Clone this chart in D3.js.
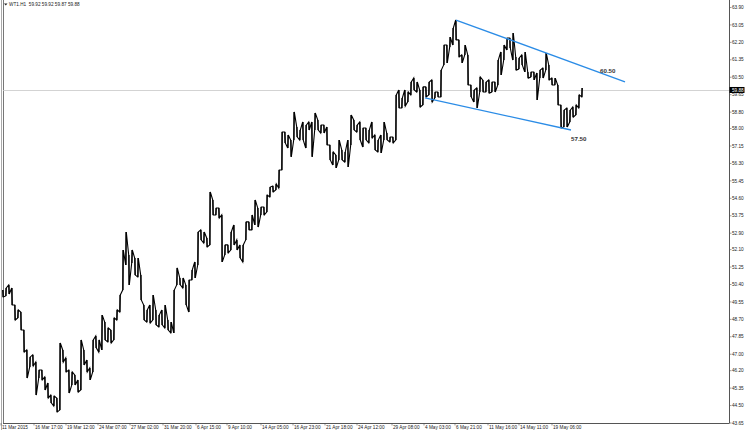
<!DOCTYPE html>
<html>
<head>
<meta charset="utf-8">
<style>
body, html {
  margin: 0;
  padding: 0;
  background: #fff;
}
svg text {
  font-family: "Liberation Sans", Arial, sans-serif;
}
.axis-label {
  font-size: 4.7px;
  fill: #222;
}
.trend {
  fill: none;
  stroke: #2b8ce6;
  stroke-width: 1.3px;
}
.note {
  font-size: 6.2px;
  font-weight: bold;
  fill: #333;
}
</style>
<script src="https://d3js.org/d3.v7.min.js"></script>
</head>
<body>
<div id="chart"></div>
<script>

//--------------------------------------
// data: WTI hourly chart, each point covers 6 H1 bars
var title = "WT1.H1  59.92 59.92 59.87 59.88";
var lastPrice = 59.88;
var barsPerPoint = 6;

var highs = [
  50.13, 50.23, 50.38, 50.23, 49.40, 49.16, 49.06, 48.18, 47.21, 46.87,
  46.97, 46.62, 46.23, 46.23, 45.89, 45.60, 45.01, 44.96, 44.87, 47.55,
  47.21, 46.82, 46.23, 46.14, 45.99, 45.75, 47.70, 47.21, 46.72, 46.33,
  47.70, 47.89, 47.70, 48.91, 48.57, 48.28, 48.18, 48.77, 49.16, 49.89,
  52.08, 52.96, 51.84, 52.08, 51.69, 51.69, 50.86, 49.40, 49.16, 49.40,
  49.89, 49.16, 48.91, 49.16, 49.40, 48.67, 48.57, 50.13, 51.21, 50.72,
  50.72, 50.38, 50.62, 51.11, 51.50, 52.96, 53.06, 52.96, 52.67, 54.91,
  54.52, 54.13, 54.13, 53.79, 52.33, 52.33, 52.96, 53.30, 52.57, 52.33,
  52.33, 53.45, 53.45, 53.79, 54.52, 54.13, 54.18, 54.18, 54.76, 55.15,
  55.20, 55.30, 55.98, 57.83, 57.83, 57.69, 57.44, 58.81, 58.08, 57.93,
  58.32, 58.17, 58.32, 58.32, 58.76, 58.42, 58.17, 58.17, 58.08, 57.20,
  56.86, 56.71, 57.44, 56.96, 56.86, 57.44, 58.66, 58.42, 58.17, 58.32,
  58.03, 58.03, 57.93, 58.32, 57.69, 57.44, 57.69, 58.32, 57.78, 57.59,
  57.59, 59.64, 59.88, 59.49, 59.88, 59.78, 60.27, 60.46, 60.27, 59.88,
  60.03, 60.03, 60.27, 60.37, 59.78, 59.78, 60.85, 62.07, 62.07, 62.46,
  62.90, 63.29, 62.32, 61.59, 62.07, 61.59, 60.12, 59.88, 59.98, 60.51,
  60.37, 60.27, 60.37, 60.27, 60.27, 61.34, 61.73, 62.07, 62.41, 62.41,
  62.66, 61.49, 61.44, 61.59, 61.73, 60.76, 60.76, 60.76, 60.71, 60.85,
  60.95, 61.68, 61.10, 60.46, 60.46, 60.12, 59.15, 58.90, 59.00, 58.90,
  59.05, 59.15, 59.64, 59.98
];

var lows = [
  49.79, 49.84, 49.94, 49.40, 48.67, 48.77, 48.18, 47.11, 45.84, 46.38,
  46.43, 45.01, 45.84, 45.75, 45.26, 44.87, 44.63, 44.48, 44.19, 44.28,
  46.62, 46.14, 45.11, 45.50, 45.50, 45.16, 45.26, 46.48, 46.14, 45.75,
  46.14, 47.31, 47.11, 47.21, 47.70, 47.60, 47.55, 47.70, 48.67, 49.06,
  50.13, 51.35, 50.38, 51.45, 50.86, 50.77, 49.65, 48.67, 48.57, 48.52,
  48.67, 48.43, 48.33, 48.43, 48.28, 48.18, 48.04, 48.04, 50.38, 50.38,
  50.23, 49.40, 49.06, 50.62, 50.72, 51.35, 52.57, 52.42, 52.23, 52.33,
  53.79, 53.79, 53.64, 51.50, 51.84, 51.94, 52.08, 52.33, 52.08, 51.69,
  51.50, 52.57, 53.06, 53.06, 53.30, 53.20, 53.79, 53.79, 53.93, 54.67,
  54.91, 55.01, 55.10, 55.98, 57.30, 57.05, 56.62, 57.44, 57.59, 57.44,
  57.44, 57.05, 57.93, 56.62, 57.93, 57.93, 57.78, 57.78, 57.20, 56.47,
  56.22, 56.08, 56.47, 56.47, 56.37, 56.13, 57.20, 57.93, 57.83, 57.44,
  57.10, 57.44, 57.30, 57.54, 56.96, 56.86, 56.81, 57.44, 57.44, 57.35,
  57.30, 57.44, 59.00, 59.00, 59.10, 59.30, 59.64, 59.88, 59.78, 59.05,
  59.15, 59.54, 59.64, 59.30, 59.49, 59.54, 59.54, 61.10, 61.20, 61.98,
  62.07, 62.32, 61.49, 61.20, 61.59, 60.12, 59.54, 59.30, 59.00, 59.78,
  59.78, 59.78, 59.73, 59.78, 59.78, 60.12, 60.61, 61.34, 61.83, 61.93,
  61.34, 60.85, 60.90, 61.10, 60.76, 60.46, 60.51, 60.37, 59.39, 60.46,
  60.46, 60.85, 60.37, 60.12, 60.12, 59.15, 58.03, 58.08, 58.08, 58.32,
  58.56, 58.66, 59.00, 59.54
];

var priceTicks = [
  63.90, 63.05, 62.20, 61.35, 60.50, 59.65, 58.80, 58.00, 57.15, 56.30,
  55.45, 54.60, 53.75, 52.90, 52.10, 51.25, 50.40, 49.55, 48.70, 47.85,
  47.00, 46.20, 45.35, 44.50, 43.65
];

var timeLabels = [
  "11 Mar 2015", "16 Mar 17:00", "19 Mar 12:00", "24 Mar 07:00", "27 Mar 02:00",
  "31 Mar 20:00", "6 Apr 15:00", "9 Apr 10:00", "14 Apr 05:00", "16 Apr 23:00",
  "21 Apr 18:00", "24 Apr 12:00", "29 Apr 08:00", "4 May 03:00", "6 May 21:00",
  "11 May 16:00", "14 May 11:00", "19 May 06:00"
];
// bar index (H1) of each time label
var timeBars = [
  -4, 62, 126, 190, 254, 320, 386, 448, 516, 580,
  644, 708, 778, 842, 904, 970, 1032, 1098
];

// hand drawn channel: [bar, price]
var trendUpper = [[906, 63.29], [1244, 60.28]];
var trendLower = [[844, 59.49], [1136, 57.93]];
var noteTexts = ["60.50", "57.50"];
var noteBars = [1194, 1136];
var notePrices = [60.81, 57.49];

//==========================================
var width = 750,
    height = 430,
    plot = {left: 3, right: 729, top: 0, bottom: 423};

var x = d3.scaleLinear()
    .domain([0, 1452])
    .range([plot.left, plot.right]);

var y = d3.scaleLinear()
    .domain([43.65, 63.90])
    .range([plot.bottom, 7.5]);

var svg = d3.select('#chart').append('svg')
    .attr('width', width)
    .attr('height', height);

var points = highs.map(function(h, i) {
  return {bar: i * barsPerPoint, hi: h, lo: lows[i]};
});

// frame
svg.append('line')
    .attr('x1', 1.5).attr('x2', 1.5).attr('y1', 0).attr('y2', height)
    .attr('stroke', '#aaa').attr('stroke-width', 1);
svg.append('line')
    .attr('x1', 3.5).attr('x2', 3.5).attr('y1', 0).attr('y2', plot.bottom)
    .attr('stroke', '#777').attr('stroke-width', 1);

// last price line
svg.append('line')
    .attr('x1', plot.left).attr('x2', plot.right)
    .attr('y1', Math.round(y(lastPrice)) + 0.5)
    .attr('y2', Math.round(y(lastPrice)) + 0.5)
    .attr('stroke', '#c8c8c8').attr('stroke-width', 0.8);

// price trace: walk each column's range, entering at the end nearest the
// previous exit
var trace = [];
var last = null;
points.forEach(function(d) {
  var first = d.hi, second = d.lo;
  if (last !== null && Math.abs(d.lo - last) < Math.abs(d.hi - last)) {
    first = d.lo; second = d.hi;
  }
  trace.push([d.bar - 0.6, first]);
  trace.push([d.bar + 0.6, second]);
  last = second;
});

var traceLine = d3.line()
    .x(function(d) { return x(d[0]); })
    .y(function(d) { return y(d[1]); });

svg.append('path')
    .datum(trace)
    .attr('d', traceLine)
    .attr('fill', 'none')
    .attr('stroke', '#000')
    .attr('stroke-width', 1.1)
    .attr('stroke-linejoin', 'miter');

svg.selectAll('line.bar')
    .data(points)
  .enter().append('line')
    .attr('class', 'bar')
    .attr('x1', function(d) { return x(d.bar); })
    .attr('x2', function(d) { return x(d.bar); })
    .attr('y1', function(d) { return y(d.hi); })
    .attr('y2', function(d) { return y(d.lo); })
    .attr('stroke', '#000')
    .attr('stroke-width', 1.2);

// channel lines
var trendLine = d3.line()
    .x(function(d) { return x(d[0]); })
    .y(function(d) { return y(d[1]); });

[trendUpper, trendLower].forEach(function(t) {
  svg.append('path')
      .datum(t)
      .attr('class', 'trend')
      .attr('d', trendLine);
});

noteTexts.forEach(function(t, i) {
  svg.append('text')
      .attr('class', 'note')
      .attr('x', x(noteBars[i]))
      .attr('y', y(notePrices[i]))
      .attr('dy', '0.35em')
      .text(t);
});

// price axis
svg.append('line')
    .attr('x1', plot.right + 0.5).attr('x2', plot.right + 0.5)
    .attr('y1', 0).attr('y2', plot.bottom)
    .attr('stroke', '#555').attr('stroke-width', 1);

var yAxis = svg.append('g');
priceTicks.forEach(function(v) {
  yAxis.append('line')
      .attr('x1', plot.right).attr('x2', plot.right + 2.5)
      .attr('y1', y(v)).attr('y2', y(v))
      .attr('stroke', '#555').attr('stroke-width', 0.6);
  yAxis.append('text')
      .attr('class', 'axis-label')
      .attr('x', plot.right + 3)
      .attr('y', y(v))
      .attr('dy', '0.35em')
      .text(v.toFixed(2));
});

svg.append('rect')
    .attr('x', plot.right + 0.5)
    .attr('y', y(lastPrice) - 3)
    .attr('width', 15)
    .attr('height', 6)
    .attr('fill', '#000');
svg.append('text')
    .attr('class', 'axis-label')
    .attr('x', plot.right + 3)
    .attr('y', y(lastPrice))
    .attr('dy', '0.35em')
    .style('fill', '#fff')
    .text(lastPrice.toFixed(2));

// time axis
svg.append('line')
    .attr('x1', plot.left).attr('x2', plot.right + 0.5)
    .attr('y1', plot.bottom + 0.5).attr('y2', plot.bottom + 0.5)
    .attr('stroke', '#555').attr('stroke-width', 1);

var xAxis = svg.append('g');
timeLabels.forEach(function(t, i) {
  var tx = x(timeBars[i]);
  xAxis.append('line')
      .attr('x1', tx).attr('x2', tx)
      .attr('y1', plot.bottom).attr('y2', plot.bottom + 2.5)
      .attr('stroke', '#555').attr('stroke-width', 0.6);
  xAxis.append('text')
      .attr('class', 'axis-label')
      .attr('x', tx + 1)
      .attr('y', plot.bottom + 6)
      .text(t);
});

// header
svg.append('path')
    .attr('d', 'M4,3.5 L7.5,3.5 L5.75,5.5 Z')
    .attr('fill', '#222');
svg.append('text')
    .attr('class', 'axis-label')
    .attr('x', 9)
    .attr('y', 6)
    .style('white-space', 'pre')
    .text(title);

</script>
</body>
</html>
